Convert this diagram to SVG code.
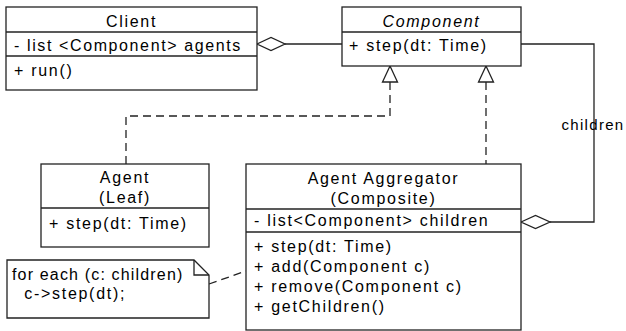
<svg xmlns="http://www.w3.org/2000/svg" width="626" height="331" viewBox="0 0 626 331">
<style>
  .box { fill: #fff; stroke: #222; stroke-width: 1.3; }
  .div { stroke: #222; stroke-width: 1.3; fill: none; }
  text { font-family: "Liberation Sans", Arial, sans-serif; font-size: 16px; letter-spacing: 1.7px; fill: #000; }
  .c { text-anchor: middle; }
  .it { font-style: italic; }
  .line { stroke: #222; stroke-width: 1.3; fill: none; }
  .dash { stroke: #222; stroke-width: 1.3; fill: none; stroke-dasharray: 8 5; }
  .hollow { fill: #fff; stroke: #222; stroke-width: 1.3; }
  .lbl { font-size: 15px; letter-spacing: 1.3px; }
</style>
<rect width="626" height="331" fill="#fff"/>
<g id="connectors">
  <line class="line" x1="285" y1="44" x2="342" y2="44"/>
  <polygon class="hollow" points="257,44 271,37.5 285,44 271,50.5"/>
  <polyline class="line" points="521,44 594,44 594,222 550,222"/>
  <polygon class="hollow" points="521,222 535.5,215.5 550,222 535.5,228.5"/>
  <text class="lbl c" x="593" y="130">children</text>
  <polyline class="dash" points="390,82 390,116 126,116 126,164"/>
  <polygon class="hollow" points="390,66 382.5,82 397.5,82"/>
  <line class="dash" x1="486" y1="82" x2="486" y2="164"/>
  <polygon class="hollow" points="486,66 478.5,82 493.5,82"/>
  <line class="dash" x1="209" y1="284" x2="246" y2="271"/>
</g>
<g id="client">
  <rect class="box" x="6" y="7" width="251" height="83"/>
  <line class="div" x1="6" y1="32" x2="257" y2="32"/>
  <line class="div" x1="6" y1="56" x2="257" y2="56"/>
  <text class="c" x="131.5" y="27">Client</text>
  <text x="14" y="51" textLength="228" lengthAdjust="spacing">- list &lt;Component&gt; agents</text>
  <text x="14" y="76">+ run()</text>
</g>
<g id="component">
  <rect class="box" x="342" y="7" width="179" height="59"/>
  <line class="div" x1="342" y1="32" x2="521" y2="32"/>
  <text class="c it" x="431.5" y="27">Component</text>
  <text x="349" y="51">+ step(dt: Time)</text>
</g>
<g id="agent">
  <rect class="box" x="41" y="164" width="168" height="83"/>
  <line class="div" x1="41" y1="208" x2="209" y2="208"/>
  <text class="c" x="125" y="183">Agent</text>
  <text class="c" x="125" y="203">(Leaf)</text>
  <text x="49" y="229">+ step(dt: Time)</text>
</g>
<g id="aggregator">
  <rect class="box" x="246" y="164" width="275" height="166"/>
  <line class="div" x1="246" y1="209" x2="521" y2="209"/>
  <line class="div" x1="246" y1="232" x2="521" y2="232"/>
  <text class="c" x="383.5" y="184">Agent Aggregator</text>
  <text class="c" x="383.5" y="204">(Composite)</text>
  <text x="254" y="226">- list&lt;Component&gt; children</text>
  <text x="254" y="252">+ step(dt: Time)</text>
  <text x="254" y="272">+ add(Component c)</text>
  <text x="254" y="292">+ remove(Component c)</text>
  <text x="254" y="312">+ getChildren()</text>
</g>
<g id="note">
  <path class="box" d="M7,260 H194 L209,275 V318 H7 Z"/>
  <path class="div" d="M194,260 V275 H209"/>
  <text x="12" y="280" textLength="172" lengthAdjust="spacing">for each (c: children)</text>
  <text x="12" y="299" xml:space="preserve">  c-&gt;step(dt);</text>
</g>
</svg>
